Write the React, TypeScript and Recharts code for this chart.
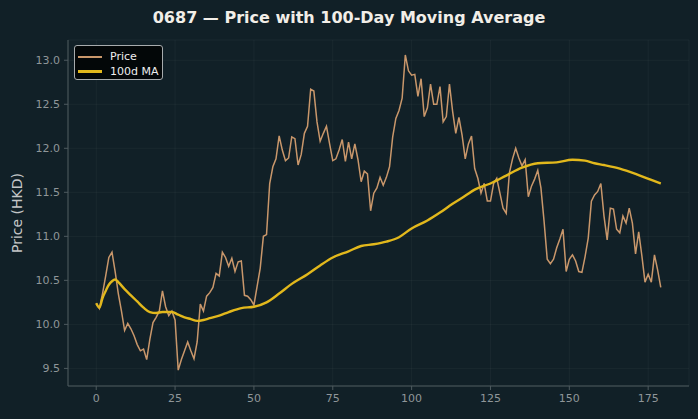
import { CartesianGrid, Line, LineChart, XAxis, YAxis } from "recharts";

// daily close, day 0..179
const prices = [
  10.24, 10.18, 10.35, 10.55, 10.76, 10.82, 10.6, 10.35, 10.15, 9.93,
  10.01, 9.95, 9.87, 9.77, 9.7, 9.72, 9.6, 9.83, 10.02, 10.08,
  10.15, 10.38, 10.2, 10.1, 10.15, 10.05, 9.48, 9.6, 9.7, 9.8,
  9.7, 9.61, 9.8, 10.23, 10.15, 10.32, 10.36, 10.42, 10.58, 10.55,
  10.82, 10.76, 10.66, 10.75, 10.6, 10.71, 10.72, 10.33, 10.32, 10.28,
  10.22, 10.43, 10.64, 11.0, 11.02, 11.6, 11.79, 11.88, 12.14, 11.98,
  11.86, 11.89, 12.13, 12.11, 11.81, 11.93, 12.17, 12.25, 12.67, 12.65,
  12.3, 12.08, 12.17, 12.25, 12.05, 11.86, 11.88, 11.98, 12.1, 11.85,
  12.07, 11.88, 12.05, 11.87, 11.62, 11.74, 11.71, 11.29, 11.49, 11.55,
  11.67, 11.58, 11.67, 11.79, 12.13, 12.34, 12.43, 12.57, 13.06, 12.88,
  12.83, 12.84, 12.59, 12.79, 12.36, 12.46, 12.73, 12.5, 12.5, 12.7,
  12.3, 12.36, 12.73, 12.42, 12.17, 12.35, 12.15, 11.88, 12.05, 12.14,
  11.77, 11.66, 11.49, 11.6, 11.4, 11.4, 11.6, 11.66, 11.49, 11.32,
  11.26, 11.72, 11.88, 12.0, 11.89, 11.8, 11.87, 11.45, 11.57, 11.65,
  11.75, 11.55, 11.17, 10.74, 10.69, 10.74, 10.87, 10.97, 11.08, 10.6,
  10.74, 10.79, 10.72, 10.6, 10.59, 10.77, 10.98, 11.4, 11.47, 11.51,
  11.6, 11.23, 10.96, 11.32, 11.31, 11.08, 11.04, 11.23, 11.15, 11.32,
  11.15, 10.8, 11.05, 10.78, 10.48, 10.57, 10.48, 10.79, 10.62, 10.42,
];

// 100-day moving average, sampled along the curve
const maDays = [
  0, 1, 2, 3, 4, 5, 6, 7, 9, 11, 13, 15, 17, 19, 21, 24, 26, 28, 30, 32,
  34, 36, 39, 42, 46, 50, 54, 58, 62, 67, 71, 75, 80, 84, 88, 92, 96, 100,
  105, 109, 113, 117, 120, 125, 130, 135, 140, 146, 151, 155, 158, 161,
  166, 171, 176, 179,
];
const maValues = [
  10.24, 10.19, 10.3, 10.38, 10.45, 10.49, 10.51, 10.48, 10.4, 10.33,
  10.26, 10.19, 10.14, 10.13, 10.14, 10.14, 10.11, 10.08, 10.06, 10.04,
  10.05, 10.07, 10.1, 10.14, 10.185, 10.2, 10.25, 10.35, 10.46, 10.57,
  10.67, 10.76, 10.83, 10.89, 10.91, 10.94, 10.99, 11.09, 11.18, 11.27,
  11.37, 11.46, 11.53, 11.6, 11.69, 11.78, 11.83, 11.84, 11.87, 11.86,
  11.83, 11.81, 11.77, 11.71, 11.64, 11.6,
];

const xTicks = [0, 25, 50, 75, 100, 125, 150, 175];
const yTicks = [9.5, 10.0, 10.5, 11.0, 11.5, 12.0, 12.5, 13.0];

const priceData = prices.map((price, day) => ({ day, price }));
const maData = maDays.map((day, i) => ({ day, ma: maValues[i] }));

const BG = "#112027";
const PRICE = "#c9976b";
const MA = "#e2b81c";
const AXIS = "#4e5a5f";
const TICK_TEXT = "#8f9699";
const FONT = "DejaVu Sans, sans-serif";

function LegendRow({ color, width, label }: { color: string; width: number; label: string }) {
  return (
    <div style={{ display: "flex", alignItems: "center", height: 15 }}>
      <div style={{ width: 24, height: width, background: color, marginRight: 8 }} />
      <span>{label}</span>
    </div>
  );
}

export default function App() {
  return (
    <div style={{ position: "fixed", left: 0, top: 0, width: 698, height: 419, background: BG, fontFamily: FONT }}>
      <div
        style={{
          position: "absolute",
          top: 8,
          left: 0,
          width: 698,
          textAlign: "center",
          color: "#f2eee8",
          fontWeight: "bold",
          fontSize: 16,
        }}
      >
        0687 — Price with 100-Day Moving Average
      </div>
      <div
        style={{
          position: "absolute",
          left: 17,
          top: 213,
          transform: "translate(-50%, -50%) rotate(-90deg)",
          whiteSpace: "nowrap",
          color: "#c4c6c7",
          fontSize: 14,
        }}
      >
        Price (HKD)
      </div>
      <LineChart width={698} height={419} margin={{ top: 40, right: 9, bottom: 0, left: 0 }}>
        <CartesianGrid stroke="#ffffff" strokeOpacity={0.04} />
        <XAxis
          type="number"
          dataKey="day"
          domain={[-8.95, 187.95]}
          ticks={xTicks}
          height={33}
          stroke={AXIS}
          tickSize={4}
          tick={{ fill: TICK_TEXT, fontSize: 11, fontFamily: FONT }}
          tickMargin={4}
          allowDataOverflow
        />
        <YAxis
          type="number"
          domain={[9.3, 13.23]}
          ticks={yTicks}
          width={68}
          stroke={AXIS}
          tickSize={4}
          tick={{ fill: TICK_TEXT, fontSize: 11, fontFamily: FONT }}
          tickMargin={4}
          tickFormatter={(v: number) => v.toFixed(1)}
          allowDataOverflow
        />
        <Line
          data={priceData}
          dataKey="price"
          type="linear"
          stroke={PRICE}
          strokeWidth={1.5}
          dot={false}
          isAnimationActive={false}
        />
        <Line
          data={maData}
          dataKey="ma"
          type="monotone"
          stroke={MA}
          strokeWidth={2.4}
          dot={false}
          isAnimationActive={false}
        />
      </LineChart>
      <div
        style={{
          position: "absolute",
          left: 74,
          top: 45,
          width: 89,
          height: 35,
          padding: "3px 0 0 3px",
          boxSizing: "border-box",
          background: "#030708",
          border: "1px solid #a7abad",
          borderRadius: 3,
          color: "#eeeeee",
          fontSize: 11,
        }}
      >
        <LegendRow color={PRICE} width={2} label="Price" />
        <LegendRow color={MA} width={3} label="100d MA" />
      </div>
    </div>
  );
}
